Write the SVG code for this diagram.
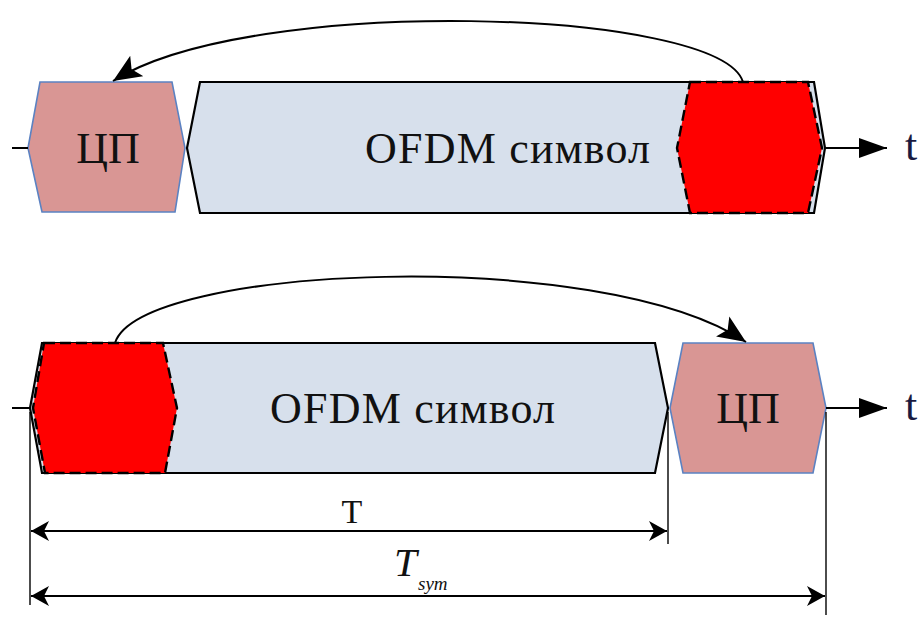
<svg xmlns="http://www.w3.org/2000/svg" width="923" height="617" viewBox="0 0 923 617">
  <style>
    .cp { fill: #D99694; stroke: #5B82C2; stroke-width: 1.6; }
    .sym { fill: #D7E0EC; stroke: #000; stroke-width: 2.2; stroke-linejoin: miter; }
    .red { fill: #FF0000; stroke: #000; stroke-width: 2.4; stroke-dasharray: 11 5; }
    .ln { fill: none; stroke: #000; stroke-width: 2; }
    .tick { fill: none; stroke: #000; stroke-width: 1.4; }
    text { font-family: 'Liberation Serif', 'DejaVu Serif', serif; fill: #111; }
    .lbl { font-size: 44px; }
    .ax { font-size: 44px; fill: #1a1a40; }
  </style>
  <defs>
    <marker id="axisHead" markerWidth="30" markerHeight="24" refX="28" refY="12" orient="auto" markerUnits="userSpaceOnUse">
      <path d="M0,2 L28,12 L0,22 Z" fill="#000"/>
    </marker>
    <marker id="arcHead" markerWidth="30" markerHeight="26" refX="28" refY="13" orient="auto" markerUnits="userSpaceOnUse">
      <path d="M0,1 L28,13 L0,25 L6,13 Z" fill="#000"/>
    </marker>
    <marker id="dimEnd" markerWidth="20" markerHeight="20" refX="18" refY="10" orient="auto" markerUnits="userSpaceOnUse">
      <path d="M0,0 L18,10 L0,20 L5,10 Z" fill="#000"/>
    </marker>
    <marker id="dimStart" markerWidth="20" markerHeight="20" refX="0" refY="10" orient="auto" markerUnits="userSpaceOnUse">
      <path d="M18,0 L0,10 L18,20 L13,10 Z" fill="#000"/>
    </marker>
  </defs>

  <!-- Upper row: prefix placed before the symbol -->
  <g id="top-cp">
    <polygon class="cp" points="40,82 172,82 185,148 175,212 42,212 28,148"/>
    <text class="lbl" x="108" y="163" text-anchor="middle">ЦП</text>
  </g>
  <g id="top-symbol">
    <polygon class="sym" points="200,82 814,82 825,148 814,213 200,213 187,148"/>
    <text class="lbl" x="365" y="163" textLength="285" lengthAdjust="spacing">OFDM символ</text>
  </g>
  <g id="top-tail">
    <polygon class="red" points="690,82 808,82 822,148 808,213 690,213 677,148"/>
  </g>

  <!-- Lower row: symbol followed by the prefix -->
  <g id="bottom-symbol">
    <polygon class="sym" points="42,343 655,343 668,408 655,473 42,473 30,408"/>
  </g>
  <g id="bottom-head">
    <polygon class="red" points="44,343 163,343 177,408 165,473 45,473 33,408"/>
  </g>
  <g id="bottom-symbol-label">
    <text class="lbl" x="270" y="423" textLength="285" lengthAdjust="spacing">OFDM символ</text>
  </g>
  <g id="bottom-cp">
    <polygon class="cp" points="683,343 813,343 826,408 813,473 683,473 670,408"/>
    <text class="lbl" x="748" y="423" text-anchor="middle">ЦП</text>
  </g>

  <!-- Connectors: time axes, copy arcs, dimension lines -->
  <g id="connectors">
    <line class="ln" x1="12" y1="148" x2="28" y2="148"/>
    <line class="ln" x1="825" y1="148" x2="887" y2="148" marker-end="url(#axisHead)"/>
    <line class="ln" x1="12" y1="408" x2="30" y2="408"/>
    <line class="ln" x1="826" y1="408" x2="887" y2="408" marker-end="url(#axisHead)"/>

    <path class="ln" d="M743,82 C720,8 250,-6 113,81" marker-end="url(#arcHead)"/>
    <path class="ln" d="M115,343 C140,265 600,245 746,342" marker-end="url(#arcHead)"/>

    <line class="tick" x1="30" y1="412" x2="30" y2="605"/>
    <line class="tick" x1="668" y1="412" x2="668" y2="544"/>
    <line class="tick" x1="826" y1="412" x2="826" y2="615"/>

    <line class="ln" x1="31" y1="531" x2="667" y2="531" marker-start="url(#dimStart)" marker-end="url(#dimEnd)"/>
    <line class="ln" x1="31" y1="596" x2="825" y2="596" marker-start="url(#dimStart)" marker-end="url(#dimEnd)"/>
  </g>

  <g id="labels">
    <text class="ax" x="905" y="160">t</text>
    <text class="ax" x="905" y="420">t</text>
    <text x="352" y="523" text-anchor="middle" font-size="34">T</text>
    <text x="394" y="576" font-size="41" font-style="italic">T</text>
    <text x="418" y="590" font-size="19" font-style="italic">sym</text>
  </g>
</svg>
